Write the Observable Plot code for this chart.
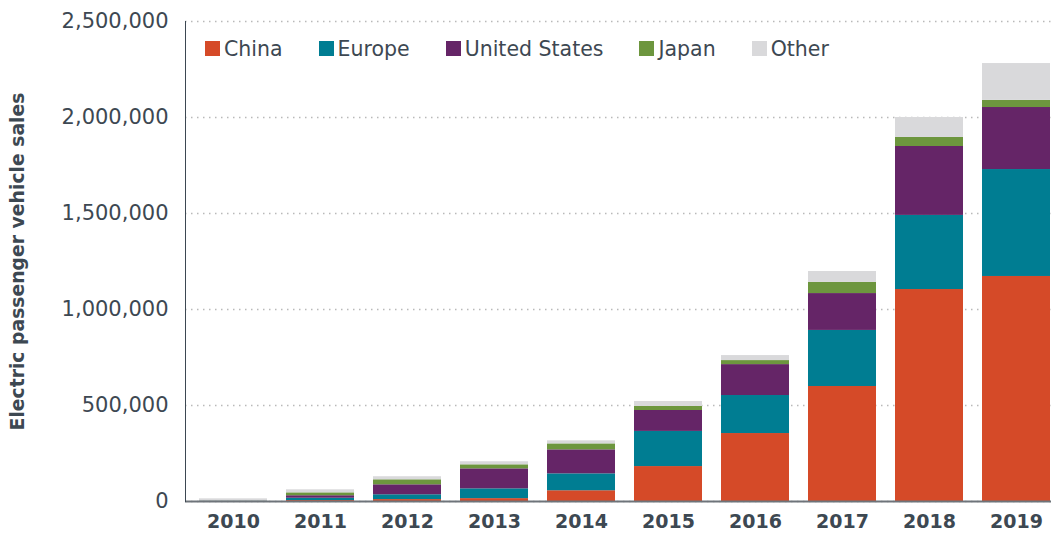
<!DOCTYPE html>
<html>
<head>
<meta charset="utf-8">
<script src="https://cdn.jsdelivr.net/npm/d3@7"></script>
<script src="https://cdn.jsdelivr.net/npm/@observablehq/plot@0.6"></script>
<style>
  body { margin: 0; background: #fff; }
  #wrap { position: relative; width: 1053px; height: 533px; font-family: "DejaVu Sans", sans-serif; }
  #legend { position: absolute; left: 205px; top: 32px; }
  #legend .lg-swatches { font-family: "DejaVu Sans", sans-serif; font-size: 20.5px; color: #3d4852; margin: 0; display: flex; align-items: center; }
  #legend .lg-swatch { margin-right: 36px; display: inline-flex; align-items: center; }
  #legend .lg-swatch > svg { margin-right: 4px; }
</style>
</head>
<body>
<div id="wrap"><div id="chart"></div><div id="legend"></div></div>
<script>
const years = ["2010","2011","2012","2013","2014","2015","2016","2017","2018","2019"];
const regions = ["China","Europe","United States","Japan","Other"];
const colors = ["#d54a28","#007d92","#652567","#6d963e","#d9d9db"];
const china  = [0,     5000, 10000, 15000, 56000, 182000, 354000, 599000, 1104000, 1172000];
const europe = [1000, 12000, 25000, 51000, 88000, 183000, 198000, 292000,  386000,  557000];
const us     = [1000, 13000, 52000, 104000,125000,109000, 161000, 192000,  359000,  323000];
const japan  = [1000, 15000, 26000, 21000, 31000,  21000,  21000,  58000,   47000,   37000];
const other  = [11000,16000, 16000, 16000, 16000,  26000,  26000,  57000,  104000,  192000];
const yTicks = [0, 500000, 1000000, 1500000, 2000000, 2500000];

const series = [china, europe, us, japan, other];
const data = years.flatMap((yr, i) => regions.map((r, j) => ({year: yr, region: r, value: series[j][i]})));

const textColor = "#3d4852";
const chart = Plot.plot({
  width: 1053,
  height: 533,
  marginTop: 21,
  marginBottom: 32,
  marginLeft: 185,
  marginRight: 2,
  style: {fontFamily: "DejaVu Sans, sans-serif", color: textColor, background: "#fff"},
  x: {type: "band", domain: years, range: [197, 1051], paddingInner: 0.22, paddingOuter: 0, label: null},
  y: {domain: [0, 2500000], label: null},
  color: {domain: regions, range: colors},
  marks: [
    Plot.gridY(yTicks, {stroke: "#b9b9b9", strokeOpacity: 1, strokeDasharray: "1.5,4.5", strokeWidth: 1.5}),
    Plot.barY(data, {x: "year", y: "value", fill: "region"}),
    Plot.ruleY([0], {stroke: "#6e747a", strokeWidth: 2}),
    Plot.frame({anchor: "left", stroke: "#3d4852"}),
    Plot.axisY(yTicks, {tickSize: 0, tickPadding: 17, tickFormat: d3.format(","), fontSize: 21, fill: textColor,
      label: "Electric passenger vehicle sales", labelAnchor: "center", labelOffset: 175, labelArrow: false}),
    Plot.axisX({tickSize: 0, tickPadding: 13, fontSize: 19, fontWeight: "bold", fill: textColor, label: null})
  ]
});
document.getElementById("chart").appendChild(chart);
chart.querySelectorAll("[aria-label='y-axis label'] text, [aria-label='y-axis label']").forEach(el => {
  el.setAttribute("font-size", 18.8); el.setAttribute("font-weight", "bold");
});
const leg = chart.legend("color", {swatchWidth: 15, swatchHeight: 15, className: "lg"});
document.getElementById("legend").appendChild(leg);
</script>
</body>
</html>
